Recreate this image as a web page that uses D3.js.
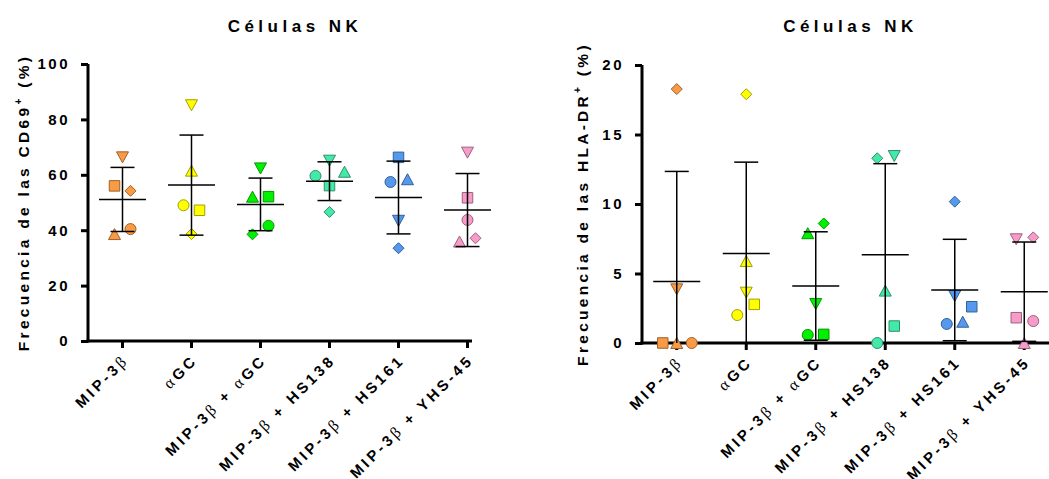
<!DOCTYPE html>
<html>
<head>
<meta charset="utf-8">
<script src="https://cdn.jsdelivr.net/npm/d3@7"></script>
<style>
  body { margin: 0; background: #fff; }
  text { font-family: "Liberation Sans", Arial, sans-serif; font-weight: bold; fill: #000; }
</style>
</head>
<body>
<div id="chart"></div>
<script>
// categories and series (order of points in each group: circle, square, triangle up, triangle down, diamond)
const groups = ["MIP-3β", "αGC", "MIP-3β + αGC", "MIP-3β + HS138", "MIP-3β + HS161", "MIP-3β + YHS-45"];
const shapes = ["circle", "square", "triangle", "triangleDown", "diamond"];
const groupColors = ["#F99B45", "#FFFF00", "#00F000", "#44E8A8", "#5599EE", "#F79CC9"];

const cd69Values = [
  [40.4, 56.0, 38.6, 66.3, 54.2],
  [49.0, 47.2, 61.5, 85.1, 38.6],
  [41.6, 52.1, 52.1, 62.3, 38.5],
  [59.6, 56.1, 61.1, 65.1, 46.6],
  [57.4, 66.3, 58.4, 43.4, 33.5],
  [43.7, 51.7, 35.9, 68.0, 37.1]
];
const hladrValues = [
  [0, 0, 0, 3.86, 18.27],
  [2.01, 2.78, 5.9, 3.62, 17.9],
  [0.58, 0.62, 7.9, 2.8, 8.6],
  [0, 1.22, 3.77, 13.45, 13.29],
  [1.37, 2.61, 1.53, 3.38, 10.17],
  [1.58, 1.82, 0, 7.46, 7.6]
];
const cd69Ticks = [0, 20, 40, 60, 80, 100];
const hladrTicks = [0, 5, 10, 15, 20];

// layout: horizontal scatter of points inside each column (px)
const cd69Jitter = [
  [8, -8, -8, 0, 8],
  [-8, 8, 0, 0, 0],
  [8, 8, -8, 0, -8],
  [-14, 0, 15, 0, 0],
  [-8, 0, 9, 0, 0],
  [0, 0, -8, 0, 8]
];
const hladrJitter = [
  [15, -14, 0, 0, 0],
  [-9, 8, 0, 0, 0],
  [-8, 8, -8, 0, 8],
  [-8, 9, 0, 9, -8],
  [-8, 17, 8, 0, 0],
  [9, -8, 0, -8, 9]
];

const svg = d3.select("#chart").append("svg")
  .attr("width", 1049)
  .attr("height", 479);

function shapePath(type, s) {
  const h = s / 2;
  switch (type) {
    case "square": return `M${-h},${-h}H${h}V${h}H${-h}Z`;
    case "triangle": return `M0,${-h}L${h + 0.5},${h}L${-h - 0.5},${h}Z`;
    case "triangleDown": return `M0,${h}L${h + 0.5},${-h}L${-h - 0.5},${-h}Z`;
    case "diamond": return `M0,${-h}L${h},0L0,${h}L${-h},0Z`;
    default: return `M${h},0A${h},${h} 0 1,1 ${-h},0A${h},${h} 0 1,1 ${h},0Z`;
  }
}

function addGreekLabel(sel, label) {
  label.split(/([αβ])/).filter(s => s.length).forEach(part => {
    const t = sel.append("tspan").text(part);
    if (part === "α" || part === "β") {
      t.style("font-family", "'Liberation Serif', serif")
        .style("font-weight", "normal")
        .attr("font-size", "16px");
    }
  });
}

function drawPanel(cfg) {
  const g = svg.append("g");
  const x = d3.scaleBand().domain(groups).range([cfg.left, cfg.left + cfg.step * groups.length]);
  const y = d3.scaleLinear().domain([0, d3.max(cfg.ticks)]).range([cfg.bottom, cfg.top]);

  // title
  g.append("text")
    .attr("x", (x.range()[0] + x.range()[1]) / 2)
    .attr("y", 32)
    .attr("text-anchor", "middle")
    .attr("font-size", "17px")
    .attr("letter-spacing", "4.5px")
    .text("Células NK");

  // y axis
  const yAxis = g.append("g")
    .attr("transform", `translate(${cfg.left},0)`)
    .call(d3.axisLeft(y).tickValues(cfg.ticks).tickSize(7).tickPadding(10));
  yAxis.select(".domain").attr("stroke-width", 3).attr("d", `M0,${cfg.bottom + 1.5}V${cfg.top}`);
  yAxis.selectAll(".tick line").attr("stroke-width", 3);
  yAxis.selectAll(".tick text")
    .attr("font-size", "15px")
    .attr("letter-spacing", "2.5px")
    .attr("font-family", null)
    .attr("x", -18);

  // x axis
  const xAxis = g.append("g")
    .attr("transform", `translate(0,${cfg.bottom})`)
    .call(d3.axisBottom(x).tickSize(7).tickFormat(""));
  xAxis.select(".domain").attr("stroke-width", 3).attr("d", `M${cfg.left - 1.5},0H${cfg.axisEnd}`);
  xAxis.selectAll(".tick line").attr("stroke-width", 3);

  groups.forEach(grp => {
    const t = g.append("text")
      .attr("transform", `translate(${x(grp) + x.bandwidth() / 2 + 7},${cfg.bottom + 20}) rotate(-45)`)
      .attr("text-anchor", "end")
      .attr("font-size", "15px")
      .attr("letter-spacing", "3.3px");
    addGreekLabel(t, grp);
  });

  // y label
  const yl = g.append("text")
    .attr("transform", `translate(${cfg.labelX},${(cfg.top + cfg.bottom) / 2}) rotate(-90)`)
    .attr("text-anchor", "middle")
    .attr("font-size", "15.5px")
    .attr("letter-spacing", "3.3px");
  yl.append("tspan").text(cfg.labelMain);
  yl.append("tspan").attr("dy", -7).attr("font-size", "10px").text("+");
  yl.append("tspan").attr("dy", 7).text(" (%)");

  // points
  cfg.values.forEach((vals, gi) => {
    const cx = x(groups[gi]) + x.bandwidth() / 2;
    g.selectAll(null)
      .data(vals.map((v, i) => ({ v, shape: shapes[i], dx: cfg.jitter[gi][i] })))
      .enter()
      .append("path")
      .attr("transform", d => `translate(${cx + d.dx},${y(d.v)})`)
      .attr("d", d => shapePath(d.shape, d.shape === "square" ? 10.5 : 11))
      .attr("fill", groupColors[gi])
      .attr("stroke", d3.color(groupColors[gi]).darker(1.3))
      .attr("stroke-width", 1);
  });

  // mean and SD bars
  cfg.values.forEach((vals, gi) => {
    const cx = x(groups[gi]) + x.bandwidth() / 2;
    const m = d3.mean(vals);
    const sd = d3.deviation(vals);
    const lo = Math.max(0, m - sd);
    const hi = m + sd;
    const bar = g.append("g").attr("stroke", "#000").attr("stroke-width", 1.5);
    bar.append("line").attr("x1", cx).attr("x2", cx).attr("y1", y(lo)).attr("y2", y(hi));
    bar.append("line").attr("x1", cx - 23.5).attr("x2", cx + 23.5).attr("y1", y(m)).attr("y2", y(m));
    bar.append("line").attr("x1", cx - 12).attr("x2", cx + 12).attr("y1", y(hi)).attr("y2", y(hi));
    if (m - sd > 0) {
      bar.append("line").attr("x1", cx - 12).attr("x2", cx + 12).attr("y1", y(lo)).attr("y2", y(lo));
    }
  });
}

drawPanel({
  left: 88, top: 64, bottom: 341, step: 69, axisEnd: 472,
  ticks: cd69Ticks, values: cd69Values, jitter: cd69Jitter,
  labelX: 29, labelMain: "Frecuencia de las CD69"
});

drawPanel({
  left: 642, top: 65, bottom: 343, step: 69.5, axisEnd: 1049,
  ticks: hladrTicks, values: hladrValues, jitter: hladrJitter,
  labelX: 588, labelMain: "Frecuencia de las HLA-DR"
});
</script>
</body>
</html>
